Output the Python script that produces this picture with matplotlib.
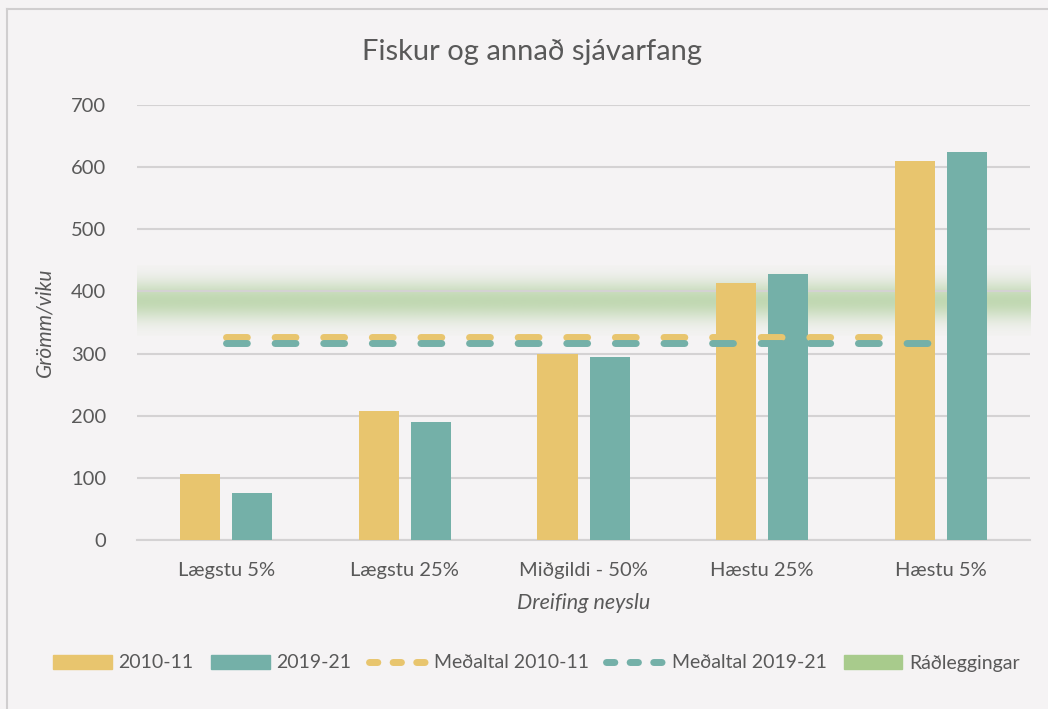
import numpy as np
import matplotlib.pyplot as plt
from matplotlib.patches import Patch
from matplotlib.lines import Line2D

# Data
categories = ["Lægstu 5%", "Lægstu 25%", "Miðgildi - 50%", "Hæstu 25%", "Hæstu 5%"]
val_2010 = [106, 208, 299, 413, 610]
val_2019 = [76, 190, 294, 428, 624]
mean_2010 = 327
mean_2019 = 317
rad_center = 386  # ráðleggingar (recommendation band centre)
rad_halfwidth = 57

# Style
yellow = "#E8C56E"
teal = "#74B0A8"
green = "#A8CB8C"
bg = "#F5F3F4"
txt = "#595959"
grid_c = "#D4D2D3"

plt.rcParams['font.family'] = ['Lato', 'DejaVu Sans']

fig = plt.figure(figsize=(10.48, 7.09), dpi=100, facecolor=bg)
ax = fig.add_axes([0.1307, 0.2384, 0.983 - 0.1307, 0.852 - 0.2384])
ax.set_facecolor(bg)

x = np.arange(len(categories))

# Recommendation band as a soft vertical gradient
yy = np.linspace(rad_center - rad_halfwidth, rad_center + rad_halfwidth, 200)
alpha = np.exp(-((yy - rad_center) / (0.55 * rad_halfwidth)) ** 2) * 0.68
rgba = np.zeros((len(yy), 2, 4))
rgba[..., :3] = np.array([0.66, 0.80, 0.58])
rgba[..., 3] = alpha[:, None]
ax.imshow(rgba, extent=[-0.5, len(categories) - 0.5, yy[0], yy[-1]],
          origin="lower", aspect="auto", zorder=0.2, interpolation="bilinear")

# Gridlines
ax.set_ylim(0, 700)
ax.set_xlim(-0.5, len(categories) - 0.5)
ax.set_yticks(np.arange(0, 701, 100))
ax.yaxis.grid(True, color=grid_c, linewidth=1.5, zorder=0.5)
ax.set_axisbelow(True)

# Bars
w = 0.224
off = 0.146
ax.bar(x - off, val_2010, w, color=yellow, zorder=3, label="2010-11")
ax.bar(x + off, val_2019, w, color=teal, zorder=3, label="2019-21")

# Mean lines
ax.plot(x, [mean_2010] * len(x), color=yellow, lw=5, dashes=(3, 4),
        dash_capstyle="round", zorder=4)
ax.plot(x, [mean_2019] * len(x), color=teal, lw=5, dashes=(3, 4),
        dash_capstyle="round", zorder=4)

for s in ["top", "right", "left"]:
    ax.spines[s].set_visible(False)
ax.spines["bottom"].set_color(grid_c)
ax.spines["bottom"].set_linewidth(1.5)
ax.tick_params(axis="both", length=0, colors=txt, labelsize=14.5)
ax.tick_params(axis="y", pad=22)
ax.tick_params(axis="x", pad=16)
ax.set_xticks(x)
ax.set_xticklabels(categories)

fig.text(0.508, 1 - 52 / 709, "Fiskur og annað sjávarfang", fontsize=21, color=txt,
         ha="center", va="center")
ax.set_ylabel("Grömm/viku", fontsize=15, color=txt, style="italic", labelpad=12)
ax.set_xlabel("Dreifing neyslu", fontsize=15.5, color=txt, style="italic", labelpad=10)

handles = [
    Patch(color=yellow, label="2010-11"),
    Patch(color=teal, label="2019-21"),
    Line2D([0], [0], color=yellow, lw=5, dashes=(1.2, 2.2), dash_capstyle="round",
           label="Meðaltal 2010-11"),
    Line2D([0], [0], color=teal, lw=5, dashes=(1.2, 2.2), dash_capstyle="round",
           label="Meðaltal 2019-21"),
    Patch(color=green, label="Ráðleggingar"),
]
fig.legend(handles=handles, loc="center", bbox_to_anchor=(0.512, 1 - 663 / 709),
           ncol=5, frameon=False, fontsize=14, labelcolor=txt,
           handlelength=3.0, handleheight=0.7, columnspacing=0.9, handletextpad=0.35)

# Outer chart border (top and left visible)
fig.add_artist(Line2D([7 / 1048, 1.0], [1 - 9 / 709, 1 - 9 / 709], color="#D0CECF",
                      lw=1.5, transform=fig.transFigure))
fig.add_artist(Line2D([7 / 1048, 7 / 1048], [0.0, 1 - 9 / 709], color="#D0CECF",
                      lw=1.5, transform=fig.transFigure))

fig.savefig("out.png", dpi=100, facecolor=bg)
